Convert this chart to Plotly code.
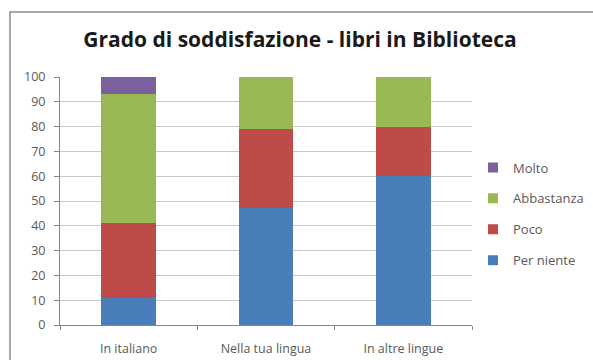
import plotly.graph_objects as go

categories = ["In italiano", "Nella tua lingua", "In altre lingue"]
per_niente = [11, 47, 60]
poco = [30, 32, 20]
abbastanza = [52, 21, 20]
molto = [7, 0, 0]

series = [
    ("Per niente", per_niente, "#4a7ebb"),
    ("Poco", poco, "#be4b48"),
    ("Abbastanza", abbastanza, "#98b954"),
    ("Molto", molto, "#7d60a0"),
]

W, H = 593, 360
L, R, T, B = 60, 121, 77, 35
pw, ph = W - L - R, H - T - B

fig = go.Figure()
for name, vals, color in series:
    fig.add_trace(go.Bar(
        x=categories, y=vals, name=name, showlegend=False,
        marker=dict(color=color, line=dict(width=0)),
    ))

# legend entries with small square swatches, Molto on top
for rank, (name, vals, color) in enumerate(reversed(series), start=1):
    fig.add_trace(go.Scatter(
        x=[None], y=[None], mode="markers", name=name,
        legendgroup=name, legendrank=rank,
        marker=dict(symbol="square", size=10, color=color),
        hoverinfo="skip",
    ))

fig.update_layout(
    width=W, height=H,
    margin=dict(l=L, r=R, t=T, b=B, autoexpand=False),
    barmode="stack", bargap=0.6,
    paper_bgcolor="white", plot_bgcolor="white",
    font=dict(family="Open Sans", size=12, color="#595959"),
    title=dict(
        text="<b>Grado di soddisfazione - libri in Biblioteca</b>",
        x=(300 - L) / pw, xref="paper", xanchor="center",
        y=1 - 40 / H, yanchor="middle",
        font=dict(family="Open Sans", size=21, color="#1a1a1a"),
    ),
    legend=dict(
        x=(473 - L) / pw, xanchor="left",
        y=(H - B - 214) / ph, yanchor="middle",
        traceorder="grouped", tracegroupgap=11,
        font=dict(size=13, color="#595959"),
        itemwidth=30,
    ),
    xaxis=dict(
        showline=True, linecolor="#868686", linewidth=1,
        ticks="outside", ticklen=4, tickcolor="#868686",
        tickson="boundaries", showgrid=False,
        ticklabelstandoff=12, automargin=False,
        tickfont=dict(size=12.5, color="#595959"),
    ),
    yaxis=dict(
        range=[0, 100], dtick=10,
        showline=True, linecolor="#868686", linewidth=1,
        ticks="outside", ticklen=5, tickcolor="#868686",
        ticklabelstandoff=6, automargin=False,
        showgrid=True, gridcolor="#c8c8c8", gridwidth=1,
        zeroline=False,
        tickfont=dict(size=12.5, color="#595959"),
    ),
    shapes=[dict(
        type="rect", xref="paper", yref="paper",
        x0=(10 - L) / pw, x1=2.0,
        y0=-1.0, y1=(H - B - 12) / ph,
        line=dict(color="#8c8c8c", width=1.5),
        fillcolor="rgba(0,0,0,0)", layer="below",
    )],
)

fig.write_html("out.html")
